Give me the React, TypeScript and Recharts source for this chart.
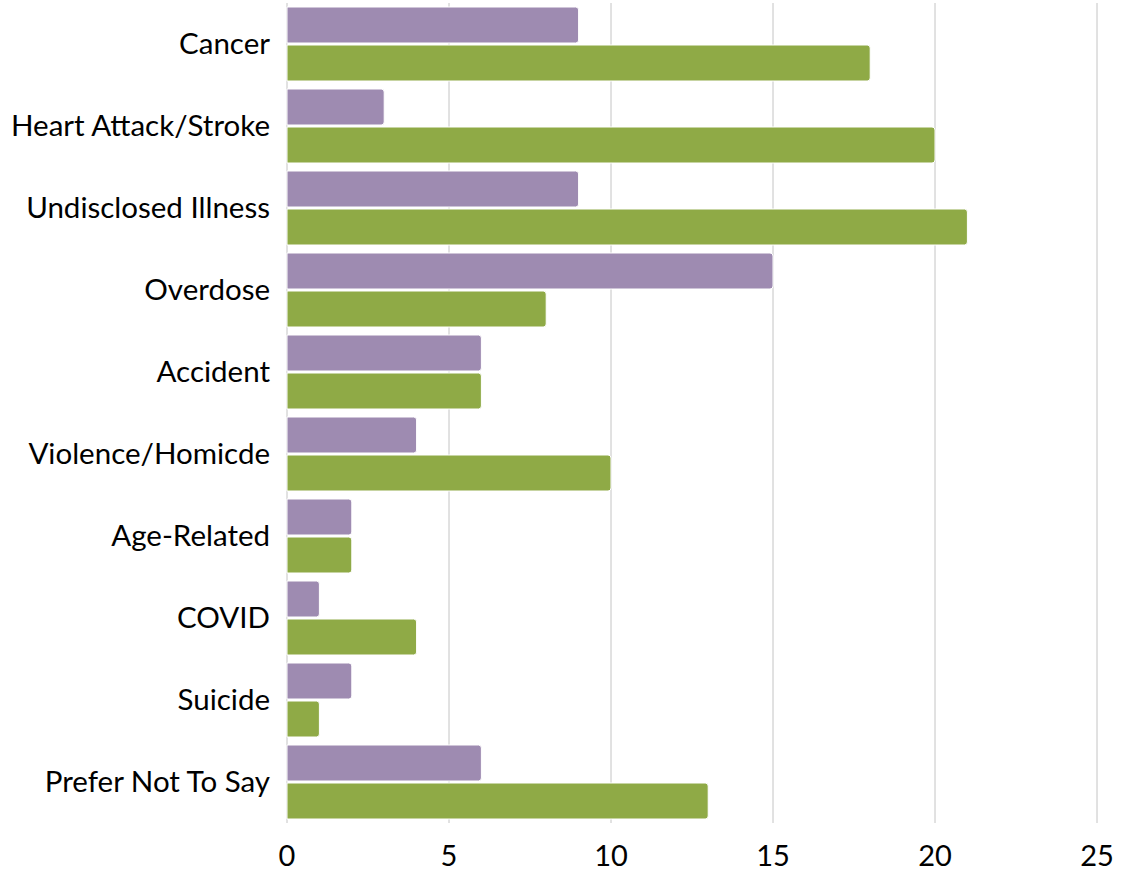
import React from "react";
import { BarChart, Bar, XAxis, YAxis, CartesianGrid } from "recharts";

const categories = [
  "Cancer",
  "Heart Attack/Stroke",
  "Undisclosed Illness",
  "Overdose",
  "Accident",
  "Violence/Homicde",
  "Age-Related",
  "COVID",
  "Suicide",
  "Prefer Not To Say",
];
const purpleValues = [9, 3, 9, 15, 6, 4, 2, 1, 2, 6];
const greenValues = [18, 20, 21, 8, 6, 10, 2, 4, 1, 13];
const xTicks = [0, 5, 10, 15, 20, 25];

const data = categories.map((c, i) => ({
  name: c,
  purple: purpleValues[i],
  green: greenValues[i],
}));

const font = "Lato, 'Open Sans', sans-serif";

export default function App() {
  return (
    <div style={{ position: "absolute", left: 0, top: 0 }}>
      <BarChart
        width={1125}
        height={877}
        data={data}
        layout="vertical"
        margin={{ top: 3, right: 28, left: 0, bottom: 0 }}
        barCategoryGap={4}
        barGap={2}
      >
        <CartesianGrid horizontal={false} vertical={true} stroke="#c4c4c4" />
        <XAxis
          type="number"
          domain={[0, 25]}
          ticks={xTicks}
          axisLine={false}
          tickLine={false}
          tickSize={0}
          tickMargin={22}
          height={54}
          interval={0}
          tick={{ fill: "#000", fontSize: 29, fontFamily: font }}
        />
        <YAxis
          type="category"
          dataKey="name"
          width={287}
          axisLine={false}
          tickLine={false}
          tickSize={0}
          tickMargin={17}
          interval={0}
          tick={{ fill: "#000", fontSize: 29.5, fontFamily: font }}
        />
        <Bar
          dataKey="purple"
          fill="#9E8BB1"
          stroke="#ffffff"
          strokeWidth={1}
          radius={[0, 3, 3, 0]}
          isAnimationActive={false}
        />
        <Bar
          dataKey="green"
          fill="#8FAA46"
          stroke="#ffffff"
          strokeWidth={1}
          radius={[0, 3, 3, 0]}
          isAnimationActive={false}
        />
      </BarChart>
    </div>
  );
}
